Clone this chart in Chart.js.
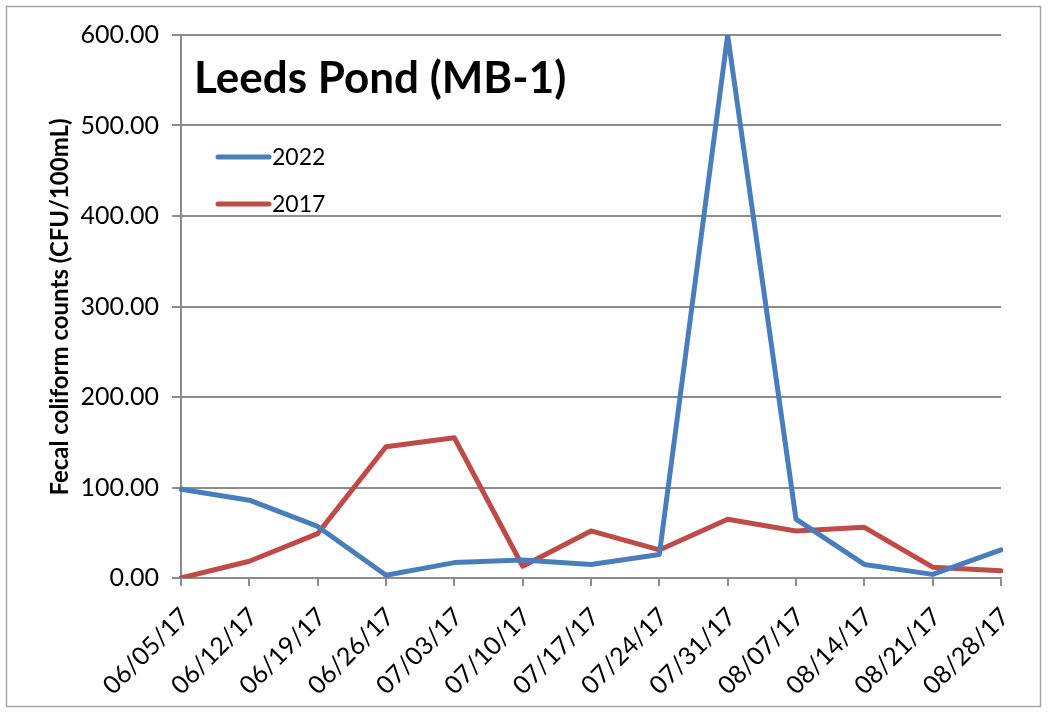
<!DOCTYPE html>
<html>
<head>
<meta charset="utf-8">
<script src="https://cdn.jsdelivr.net/npm/chart.js@4.4.1/dist/chart.umd.min.js"></script>
<style>
  html, body { margin: 0; padding: 0; background: #ffffff; }
  #wrap { width: 1048px; height: 713px; position: relative; }
</style>
</head>
<body>
<div id="wrap"><canvas id="c" width="1048" height="713"></canvas></div>
<script>
// Sampling dates (weekly)
const sampleDates = ['06/05/17', '06/12/17', '06/19/17', '06/26/17', '07/03/17', '07/10/17', '07/17/17',
                     '07/24/17', '07/31/17', '08/07/17', '08/14/17', '08/21/17', '08/28/17'];
// Fecal coliform counts, CFU/100mL
const counts2022 = [98, 86, 57, 3, 17, 20, 15, 26, 600, 65, 15, 4, 31];
const counts2017 = [0, 18.5, 49, 145, 155, 13, 52, 31, 65, 52, 56, 12, 8];
const seriesLabels = ['2022', '2017'];
const yTickValues = [0, 100, 200, 300, 400, 500, 600];
const chartTitle = 'Leeds Pond (MB-1)';
const yAxisTitle = 'Fecal coliform counts (CFU/100mL)';

const FONT = 'Lato, "Open Sans", "Liberation Sans", sans-serif';
const GRID = '#8c8c8c';
const BLUE = '#4a7ebb';
const RED = '#be4b48';

// Title, in-plot legend, vertical axis title and outer frame
const decorations = {
  id: 'decorations',
  afterDraw(chart) {
    const ctx = chart.ctx;
    ctx.save();
    // outer frame
    ctx.strokeStyle = '#a6a6a6';
    ctx.lineWidth = 1.5;
    ctx.strokeRect(6.5, 6.5, 1034, 700);

    // title
    ctx.fillStyle = '#000';
    ctx.font = 'bold 44px ' + FONT;
    ctx.textAlign = 'left';
    ctx.textBaseline = 'alphabetic';
    ctx.fillText(chartTitle, 194, 93);

    // legend
    const colors = [BLUE, RED];
    const ys = [157, 204];
    ctx.font = '23px ' + FONT;
    ctx.textBaseline = 'middle';
    seriesLabels.forEach((lab, i) => {
      ctx.strokeStyle = colors[i];
      ctx.lineWidth = 5;
      ctx.lineCap = 'round';
      ctx.beginPath();
      ctx.moveTo(218, ys[i]);
      ctx.lineTo(269, ys[i]);
      ctx.stroke();
      ctx.fillStyle = '#000';
      ctx.fillText(lab, 272, ys[i] + 1);
    });

    // vertical axis title
    ctx.translate(60, 307);
    ctx.rotate(-Math.PI / 2);
    ctx.font = 'bold 24px ' + FONT;
    ctx.textAlign = 'center';
    ctx.textBaseline = 'middle';
    ctx.fillStyle = '#000';
    ctx.fillText(yAxisTitle, 0, 0);
    ctx.restore();
  }
};

new Chart(document.getElementById('c'), {
  type: 'line',
  data: {
    labels: sampleDates,
    datasets: [
      { label: seriesLabels[0], data: counts2022, borderColor: BLUE, backgroundColor: BLUE,
        borderWidth: 5, pointRadius: 0, tension: 0, borderJoinStyle: 'round', borderCapStyle: 'round' },
      { label: seriesLabels[1], data: counts2017, borderColor: RED, backgroundColor: RED,
        borderWidth: 5, pointRadius: 0, tension: 0, borderJoinStyle: 'round', borderCapStyle: 'round' }
    ]
  },
  options: {
    responsive: false,
    animation: false,
    devicePixelRatio: 1,
    layout: { padding: { left: 0, top: 35, right: 47, bottom: 0 } },
    plugins: { legend: { display: false }, title: { display: false }, tooltip: { enabled: false } },
    scales: {
      x: {
        offset: false,
        grid: { drawOnChartArea: false, drawTicks: true, tickLength: 8, color: GRID, lineWidth: 2 },
        border: { color: GRID, width: 2 },
        ticks: { color: '#000', font: { family: FONT, size: 25 }, minRotation: 45, maxRotation: 45,
                 autoSkip: false, padding: 16, labelOffset: 4 },
        afterFit(scale) { scale.height = 135; }
      },
      y: {
        min: 0, max: 600,
        afterBuildTicks(scale) { scale.ticks = yTickValues.map(v => ({ value: v })); },
        grid: { color: GRID, lineWidth: 2, tickLength: 9 },
        border: { color: GRID, width: 2 },
        ticks: { color: '#000', font: { family: FONT, size: 25 }, padding: 13,
                 callback: v => Number(v).toFixed(2) },
        afterFit(scale) { scale.width = 181; }
      }
    }
  },
  plugins: [decorations]
});
</script>
</body>
</html>
